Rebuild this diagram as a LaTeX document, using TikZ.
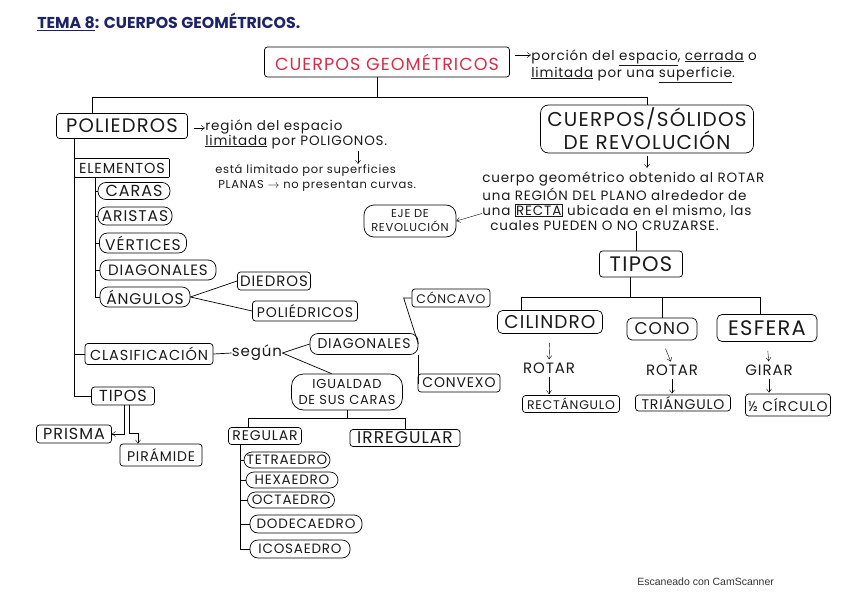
\documentclass[tikz,border=0pt]{standalone}
\usepackage{fontspec}
\setmainfont{Poppins}
\newfontfamily\hand[LetterSpace=6]{Poppins}
\newfontfamily\scanfont{Liberation Sans}
\usetikzlibrary{positioning,arrows.meta}
\definecolor{tinta}{HTML}{1C2466}
\definecolor{rojo}{HTML}{D0304A}
\definecolor{lapiz}{HTML}{1A1A1A}

\begin{document}
\begin{tikzpicture}[x=1pt, y=-1pt,
  box/.style={draw, rectangle, rounded corners=3pt, inner sep=1pt, align=center, text=lapiz, font=\hand\fontsize{14}{16}\selectfont},
  pill/.style={draw, rectangle, rounded corners=8pt, inner sep=1pt, align=center, text=lapiz, font=\hand\fontsize{14}{16}\selectfont},
  note/.style={align=left, inner sep=0pt, text=lapiz, font=\hand\fontsize{13.5}{15}\selectfont},
  arrow/.style={-{Straight Barb[length=3.5pt,width=5pt]}, thin},
  every path/.style={line width=0.7pt}
]
\useasboundingbox (0,0) rectangle (848,599);

% title
\node[anchor=west, inner sep=0pt, text=tinta, font=\fontsize{15.8}{18}\selectfont\bfseries] (tema) at (37,22) {\underline{TEMA 8}: CUERPOS GEOMÉTRICOS.};

\node[box, text=rojo, font=\hand\fontsize{17.5}{20}\selectfont, minimum width=245pt, minimum height=30pt] (cuerpos) at (387,62) {CUERPOS GEOMÉTRICOS};
\node[note, anchor=west, font=\hand\fontsize{13.5}{17}\selectfont] (defcg) at (531,66) {porción del \underline{espacio}, \underline{cerrada} o\\ \underline{limitada} por una \underline{superficie}.};
\draw[arrow] ([xshift=5pt, yshift=7pt]cuerpos.east) -- ([yshift=7pt]cuerpos.east -| defcg.west);

% poliedros
\node[box, font=\hand\fontsize{19.5}{22}\selectfont, minimum width=131pt, minimum height=25pt] (poliedros) at (122,126) {POLIEDROS};
\node[box, font=\hand\fontsize{14.5}{17}\selectfont, minimum width=95pt, minimum height=19pt, rounded corners=1pt] (elementos) at (122,168) {ELEMENTOS};
\node[pill, minimum width=72pt, minimum height=17pt, font=\hand\fontsize{16}{17}\selectfont] (caras) at (134,191) {CARAS};
\node[pill, minimum width=74pt, minimum height=18pt, font=\hand\fontsize{15.5}{17}\selectfont] (aristas) at (135,216) {ARISTAS};
\node[pill, minimum width=87pt, minimum height=20pt, font=\hand\fontsize{15.5}{17}\selectfont] (vertices) at (143,243) {VÉRTICES};
\node[pill, minimum width=116pt, minimum height=20pt, font=\hand\fontsize{15}{17}\selectfont] (diagonales) at (158,270) {DIAGONALES};
\node[pill, minimum width=90pt, minimum height=20pt, font=\hand\fontsize{15.5}{17}\selectfont] (angulos) at (145,297) {ÁNGULOS};
\node[box, minimum width=73pt, minimum height=18pt, font=\hand\fontsize{15}{17}\selectfont] (diedros) at (274,281) {DIEDROS};
\node[box, minimum width=105pt, minimum height=20pt] (poliedricos) at (305,311) {POLIÉDRICOS};

\node[note, anchor=north west] (regpol) at (205,119) {región del espacio\\ \underline{limitada} por POLIGONOS.};
\node[note, anchor=north west, font=\hand\fontsize{11.5}{15.5}\selectfont] (planas) at (215,164) {está limitado por superficies\\ \hspace{3pt}PLANAS $\rightarrow$ no presentan curvas.};
\draw[arrow] ([xshift=6pt, yshift=-2pt]poliedros.east) -- ([yshift=-2pt]poliedros.east -| regpol.west);
\coordinate (flecha) at (358,151);
\draw[arrow] (flecha) -- (flecha |- planas.north);

\node[box, minimum width=128pt, minimum height=21pt, font=\hand\fontsize{14.5}{17}\selectfont] (clasif) at (149,354) {CLASIFICACIÓN};
\node[note, font=\hand\fontsize{15}{17}\selectfont] (segun) at (257,353) {según};
\node[pill, minimum width=108pt, minimum height=21pt] (diag2) at (364,344) {DIAGONALES};
\node[pill, rounded corners=12pt, minimum width=111pt, minimum height=36pt, font=\hand\fontsize{13}{15.5}\selectfont] (igualdad) at (347,392) {IGUALDAD\\ DE SUS CARAS};
\node[box, minimum width=78pt, minimum height=18pt, font=\hand\fontsize{12.5}{15}\selectfont] (concavo) at (451,298) {CÓNCAVO};
\node[box, minimum width=82pt, minimum height=18pt] (convexo) at (459,383) {CONVEXO};

\node[box, minimum width=63pt, minimum height=18pt, font=\hand\fontsize{16}{17}\selectfont] (tipos) at (123,396) {TIPOS};
\node[box, minimum width=75pt, minimum height=18pt, font=\hand\fontsize{16}{17}\selectfont] (prisma) at (74,434) {PRISMA};
\node[box, minimum width=82pt, minimum height=22pt] (piramide) at (161,455) {PIRÁMIDE};

\node[box, minimum width=73pt, minimum height=17pt] (regular) at (265,436) {REGULAR};
\node[box, minimum width=110pt, minimum height=17pt, font=\hand\fontsize{17}{18}\selectfont] (irregular) at (405,438) {IRREGULAR};
\node[pill, minimum width=86pt, minimum height=16pt, font=\hand\fontsize{13.5}{15}\selectfont] (tetraedro) at (287,460) {TETRAEDRO};
\node[pill, minimum width=92pt, minimum height=16pt, font=\hand\fontsize{13.5}{15}\selectfont] (hexaedro) at (292,480) {HEXAEDRO};
\node[pill, minimum width=87pt, minimum height=16pt, font=\hand\fontsize{13.5}{15}\selectfont] (octaedro) at (291,500) {OCTAEDRO};
\node[pill, minimum width=112pt, minimum height=18pt, font=\hand\fontsize{13.5}{15}\selectfont] (dodecaedro) at (306,524) {DODECAEDRO};
\node[pill, minimum width=100pt, minimum height=18pt, font=\hand\fontsize{13.5}{15}\selectfont] (icosaedro) at (300,549) {ICOSAEDRO};

% revolucion
\node[box, rounded corners=8pt, font=\hand\fontsize{20}{23}\selectfont, minimum width=213pt, minimum height=48pt] (revol) at (647,129) {CUERPOS/SÓLIDOS\\ DE REVOLUCIÓN};
\node[note, anchor=north west, font=\hand\fontsize{13.5}{15.2}\selectfont] (parrafo) at (482,172) {cuerpo geométrico obtenido al ROTAR\\ una REGIÓN DEL PLANO alrededor de\\ una {\setlength{\fboxsep}{1pt}\fbox{RECTA}} ubicada en el mismo, las\\ \hspace{8pt}cuales PUEDEN O NO CRUZARSE.};
\node[pill, rounded corners=10pt, minimum width=92pt, minimum height=32pt, font=\hand\fontsize{11.5}{14}\selectfont] (eje) at (410,221) {EJE DE\\ REVOLUCIÓN};
\node[box, font=\hand\fontsize{21}{22}\selectfont, minimum width=83pt, minimum height=26pt] (tiposr) at (641,264) {TIPOS};
\node[box, rounded corners=5pt, font=\hand\fontsize{18.5}{20}\selectfont, minimum width=105pt, minimum height=23pt] (cilindro) at (550,322) {CILINDRO};
\node[box, rounded corners=5pt, font=\hand\fontsize{17}{20}\selectfont, minimum width=70pt, minimum height=22pt] (cono) at (662,329) {CONO};
\node[box, rounded corners=5pt, font=\hand\fontsize{21}{22}\selectfont, minimum width=100pt, minimum height=27pt] (esfera) at (767,328) {ESFERA};
\node[note, font=\hand\fontsize{15}{16}\selectfont] (rotar1) at (549,368) {ROTAR};
\node[note, font=\hand\fontsize{15}{16}\selectfont] (rotar2) at (672,370) {ROTAR};
\node[note, font=\hand\fontsize{15}{16}\selectfont] (girar) at (769,370) {GIRAR};
\node[box, minimum width=97pt, minimum height=17pt, font=\hand\fontsize{12.5}{14}\selectfont] (rect) at (571,404) {RECTÁNGULO};
\node[box, minimum width=95pt, minimum height=16pt] (triang) at (683,403) {TRIÁNGULO};
\node[box, minimum width=85pt, minimum height=22pt] (circulo) at (788,405) {½ CÍRCULO};

\node[anchor=west, inner sep=0pt, font=\scanfont\fontsize{10.5}{12}\selectfont, text=black!80] (scanner) at (637,582) {Escaneado con CamScanner};

% ramas principales
\coordinate (cruce) at (377,97);
\draw (cuerpos.south -| cruce) -- (cruce) -| ([xshift=-30pt]poliedros.north);
\draw (cruce) -| (revol.north);

% poliedros
\coordinate (tronco) at (74,138);
\foreach \n in {elementos, clasif, tipos}
  \draw (tronco) |- (\n.west);
\coordinate (subel) at (95,178);
\foreach \n in {caras, aristas, vertices, diagonales, angulos}
  \draw (subel) |- (\n.west);
\draw (angulos.east) -- (diedros.west);
\draw (angulos.east) -- (poliedricos.west);

\draw (clasif.east) -- (segun.west);
\draw (segun.east) -- (diag2.west);
\draw (segun.east) -- (igualdad.130);
\draw (concavo.west) -- ++(-8,0) -- (diag2.east);
\draw (diag2.south east) |- (convexo.west);

\draw[arrow] ([xshift=1pt]tipos.south) |- (prisma.east);
\draw[arrow] ([xshift=6pt]tipos.south) |- ([xshift=-23pt, yshift=10pt]piramide.north) -- ([xshift=-23pt]piramide.north);

\coordinate (bifu) at (347,418);
\draw (igualdad.south) -- (bifu);
\draw (bifu) -| ([xshift=-17pt]regular.north);
\draw (bifu) -| (irregular.north);
\coordinate (subreg) at (240,444);
\foreach \n in {tetraedro, hexaedro, octaedro, dodecaedro, icosaedro}
  \draw (subreg) |- (\n.west);

% revolucion
\draw[arrow, shorten <=3pt, shorten >=4pt] (revol.south) -- (revol.south |- parrafo.north);
\draw[arrow] ([yshift=-12pt]parrafo.west) -- (eje.east);
\draw (tiposr.north -| 636,0) -- (parrafo.south -| 636,0);
\draw ([xshift=-11pt]tiposr.south) -- ++(0,20) coordinate (bifr);
\draw (bifr) -| ([xshift=-29pt]cilindro.north);
\draw (bifr) -| (cono.north);
\draw (bifr) -| ([xshift=-7pt]esfera.north);
\foreach \a/\b/\c in {cilindro/rotar1/rect, cono/rotar2/triang, esfera/girar/circulo} {
  \draw[arrow, shorten <=9pt, shorten >=3pt] (\a.south) -- (\b.north);
  \draw[arrow, shorten <=3pt, shorten >=1pt] (\b.south) -- (\b.south |- \c.north);
}
\end{tikzpicture}
\end{document}
